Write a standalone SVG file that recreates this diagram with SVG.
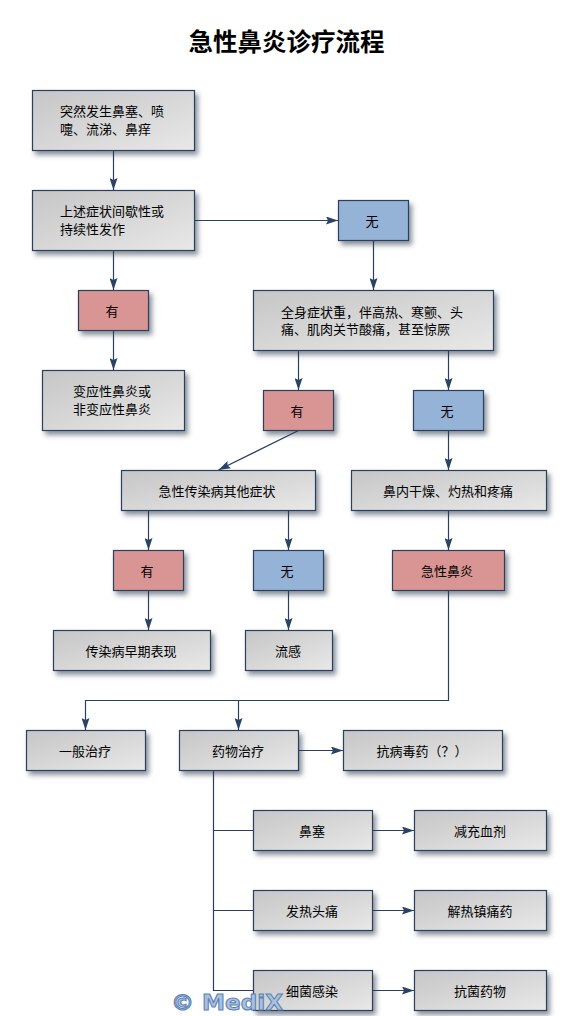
<svg xmlns="http://www.w3.org/2000/svg" width="574" height="1016" viewBox="0 0 574 1016">
<style>
text{font-family:"Noto Sans CJK SC","Liberation Sans",sans-serif;font-size:13px;fill:#000}
.m{text-anchor:middle}
.t{font-size:24.500px;font-weight:700}
.b{stroke:#2a3f5c;stroke-width:1.2;filter:url(#s)}
.g{fill:url(#g)}.r{fill:#d99594}.u{fill:#95b3d7}
.c{fill:none;stroke:#2a3f5c;stroke-width:1.2}
.w{font-family:"DejaVu Sans",sans-serif;font-size:21px;font-weight:700;fill:#a9c1e0;stroke:#5d82b3;stroke-width:1}
</style>
<defs>
<linearGradient id="g" x1="0" y1="0" x2="1" y2="1"><stop offset="0" stop-color="#c6c6c6"/><stop offset="1" stop-color="#e8e8e8"/></linearGradient>
<filter id="s" x="-10%" y="-15%" width="125%" height="145%"><feDropShadow dx="3" dy="4" stdDeviation="2.500" flood-color="#2f3b4c" flood-opacity=".55"/></filter>
<marker id="a" viewBox="0 0 12 8" refX="12" refY="4" markerWidth="12" markerHeight="8" markerUnits="userSpaceOnUse" orient="auto"><path d="M0 0L12 4L0 8L2 4Z" fill="#2a4365"/></marker>
</defs>
<text class="t m" x="286.500" y="50.500">急性鼻炎诊疗流程</text>
<g id="connectors">
<path class="c" marker-end="url(#a)" d="M113.500 150.500V190"/>
<path class="c" marker-end="url(#a)" d="M194.500 220.500H338"/>
<path class="c" marker-end="url(#a)" d="M113.500 250.500V290"/>
<path class="c" marker-end="url(#a)" d="M113.500 330.500V370"/>
<path class="c" marker-end="url(#a)" d="M373.500 240.500V290"/>
<path class="c" marker-end="url(#a)" d="M298.500 350.500V390"/>
<path class="c" marker-end="url(#a)" d="M448.500 350.500V390"/>
<path class="c" marker-end="url(#a)" d="M298.500 430.500L218.500 470"/>
<path class="c" marker-end="url(#a)" d="M448.500 430.500V470"/>
<path class="c" marker-end="url(#a)" d="M148.500 510.500V550"/>
<path class="c" marker-end="url(#a)" d="M288.500 510.500V550"/>
<path class="c" marker-end="url(#a)" d="M448.500 510.500V550"/>
<path class="c" marker-end="url(#a)" d="M148.500 590.500V630"/>
<path class="c" marker-end="url(#a)" d="M288.500 590.500V630"/>
<path class="c" marker-end="url(#a)" d="M448.500 590.500V700.500H85.500V730"/>
<path class="c" marker-end="url(#a)" d="M238.500 700.500V730"/>
<path class="c" marker-end="url(#a)" d="M298.500 750.500H343"/>
<path class="c" d="M213.500 770.500V990.500H253M213.500 830.500H253M213.500 910.500H253"/>
<path class="c" marker-end="url(#a)" d="M372.500 830.500H414"/>
<path class="c" marker-end="url(#a)" d="M372.500 910.500H414"/>
<path class="c" marker-end="url(#a)" d="M372.500 990.500H414"/>
</g>
<g id="n1"><rect class="b g" x="32.500" y="90.500" width="162" height="60"/><text x="60" y="116">突然发生鼻塞、喷</text><text x="60" y="134">嚏、流涕、鼻痒</text></g>
<g id="n2"><rect class="b g" x="32.500" y="190.500" width="162" height="60"/><text x="60" y="216">上述症状间歇性或</text><text x="60" y="234">持续性发作</text></g>
<g id="n3"><rect class="b u" x="338.500" y="200.500" width="70" height="40"/><text class="m" x="372" y="226">无</text></g>
<g id="n4"><rect class="b r" x="78.500" y="290.500" width="70" height="40"/><text class="m" x="112" y="316">有</text></g>
<g id="n5"><rect class="b g" x="253.500" y="290.500" width="240" height="60"/><text x="281" y="317">全身症状重，伴高热、寒颤、头</text><text x="281" y="334">痛、肌肉关节酸痛，甚至惊厥</text></g>
<g id="n6"><rect class="b g" x="42.500" y="370.500" width="142" height="60"/><text class="m" x="112" y="396">变应性鼻炎或</text><text class="m" x="112" y="414">非变应性鼻炎</text></g>
<g id="n7"><rect class="b r" x="263.500" y="390.500" width="70" height="40"/><text class="m" x="297" y="416">有</text></g>
<g id="n8"><rect class="b u" x="413.500" y="390.500" width="70" height="40"/><text class="m" x="447" y="416">无</text></g>
<g id="n9"><rect class="b g" x="121.500" y="470.500" width="194" height="40"/><text class="m" x="217" y="496">急性传染病其他症状</text></g>
<g id="n10"><rect class="b g" x="351.500" y="470.500" width="195" height="40"/><text class="m" x="448" y="496">鼻内干燥、灼热和疼痛</text></g>
<g id="n11"><rect class="b r" x="113.500" y="550.500" width="70" height="40"/><text class="m" x="147" y="576">有</text></g>
<g id="n12"><rect class="b u" x="253.500" y="550.500" width="70" height="40"/><text class="m" x="287" y="576">无</text></g>
<g id="n13"><rect class="b r" x="392.500" y="550.500" width="112" height="40"/><text class="m" x="447" y="576">急性鼻炎</text></g>
<g id="n14"><rect class="b g" x="53.500" y="630.500" width="157" height="40"/><text class="m" x="131" y="656">传染病早期表现</text></g>
<g id="n15"><rect class="b g" x="245.500" y="630.500" width="87" height="40"/><text class="m" x="288" y="656">流感</text></g>
<g id="n16"><rect class="b g" x="26.500" y="730.500" width="119" height="40"/><text class="m" x="85" y="756">一般治疗</text></g>
<g id="n17"><rect class="b g" x="179.500" y="730.500" width="119" height="40"/><text class="m" x="238" y="756">药物治疗</text></g>
<g id="n18"><rect class="b g" x="343.500" y="730.500" width="159" height="40"/><text class="m" x="422" y="756">抗病毒药（？）</text></g>
<g id="n19"><rect class="b g" x="253.500" y="810.500" width="119" height="40"/><text class="m" x="312" y="836">鼻塞</text></g>
<g id="n20"><rect class="b g" x="414.500" y="810.500" width="132" height="40"/><text class="m" x="480" y="836">减充血剂</text></g>
<g id="n21"><rect class="b g" x="253.500" y="890.500" width="119" height="40"/><text class="m" x="312" y="916">发热头痛</text></g>
<g id="n22"><rect class="b g" x="414.500" y="890.500" width="132" height="40"/><text class="m" x="480" y="916">解热镇痛药</text></g>
<g id="n23"><rect class="b g" x="253.500" y="970.500" width="119" height="40"/><text class="m" x="312" y="996">细菌感染</text></g>
<g id="n24"><rect class="b g" x="414.500" y="970.500" width="132" height="40"/><text class="m" x="480" y="996">抗菌药物</text></g>
<text class="w" x="171" y="1010" textLength="112" lengthAdjust="spacingAndGlyphs">© MediX</text>
</svg>
